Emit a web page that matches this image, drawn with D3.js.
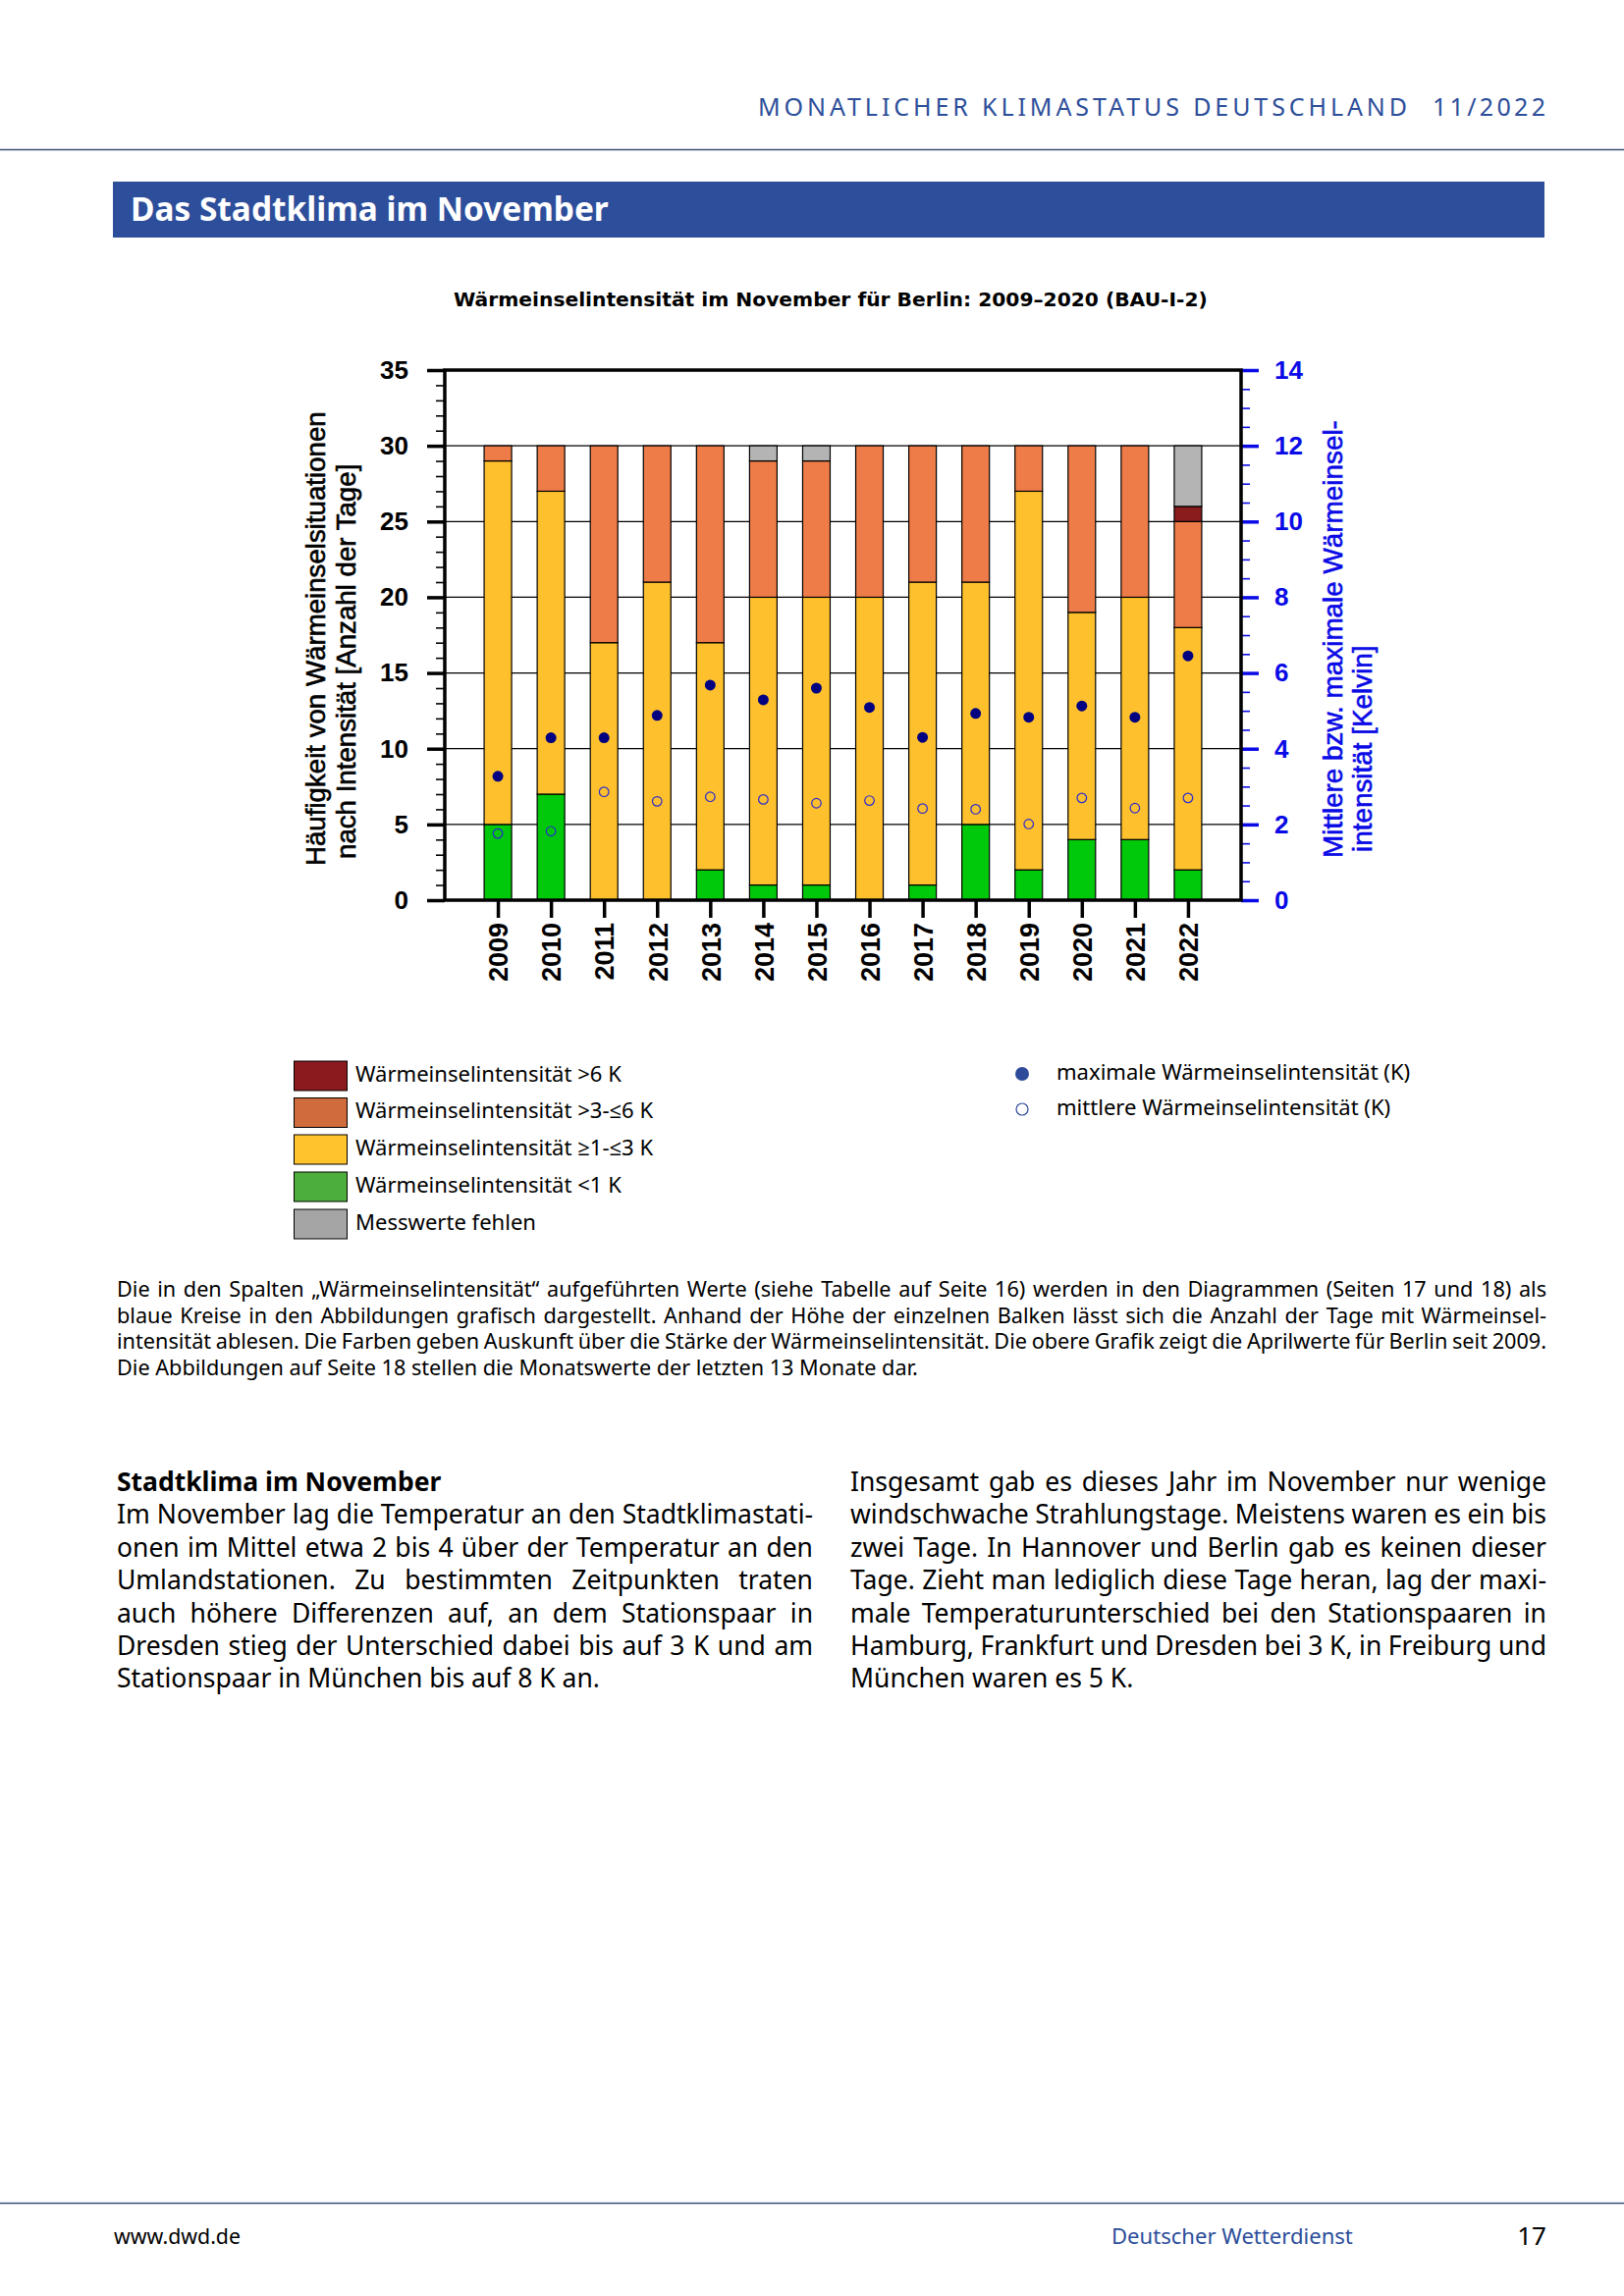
<!DOCTYPE html>
<html><head><meta charset="utf-8">
<script src="https://cdn.jsdelivr.net/npm/d3@7"></script>
<style>
html,body{margin:0;padding:0;background:#fff;}
svg{display:block;}
</style>
</head><body>
<svg id="page" width="1654" height="2339"></svg>
<script>
// ---------- DATA ----------
const years = [2009,2010,2011,2012,2013,2014,2015,2016,2017,2018,2019,2020,2021,2022];
const daysLt1   = [5,7,0,0,2,1,1,0,1,5,2,4,4,2];
const days1to3  = [24,20,17,21,15,19,19,20,20,16,25,15,16,16];
const days3to6  = [1,3,13,9,13,9,9,10,9,9,3,11,10,7];
const daysGt6   = [0,0,0,0,0,0,0,0,0,0,0,0,0,1];
const daysMissing = [0,0,0,0,0,1,1,0,0,0,0,0,0,4];
const maxK  = [3.27,4.29,4.29,4.88,5.68,5.29,5.60,5.09,4.30,4.93,4.83,5.13,4.83,6.45];
const meanK = [1.76,1.82,2.86,2.61,2.73,2.66,2.56,2.63,2.42,2.40,2.01,2.70,2.43,2.70];
const daysTicks = [0,5,10,15,20,25,30,35];
const kelvinTicks = [0,2,4,6,8,10,12,14];
const seriesKeys = ["lt1","b1to3","b3to6","gt6","missing"];
const legendLabels = ["Wärmeinselintensität >6 K","Wärmeinselintensität >3-≤6 K","Wärmeinselintensität ≥1-≤3 K","Wärmeinselintensität <1 K","Messwerte fehlen"];
const legendDotLabels = ["maximale Wärmeinselintensität (K)","mittlere Wärmeinselintensität (K)"];
const chartTitle = "Wärmeinselintensität im November für Berlin: 2009–2020 (BAU-I-2)";
const leftTitle = ["Häufigkeit von Wärmeinselsituationen","nach Intensität [Anzahl der Tage]"];
const rightTitle = ["Mittlere bzw. maximale Wärmeinsel-","intensität [Kelvin]"];
const captionLines = [
 "Die in den Spalten „Wärmeinselintensität“ aufgeführten Werte (siehe Tabelle auf Seite 16) werden in den Diagrammen (Seiten 17 und 18) als",
 "blaue Kreise in den Abbildungen grafisch dargestellt. Anhand der Höhe der einzelnen Balken lässt sich die Anzahl der Tage mit Wärmeinsel-",
 "intensität ablesen. Die Farben geben Auskunft über die Stärke der Wärmeinselintensität. Die obere Grafik zeigt die Aprilwerte für Berlin seit 2009.",
 "Die Abbildungen auf Seite 18 stellen die Monatswerte der letzten 13 Monate dar."];
const leftColLines = [
 "Im November lag die Temperatur an den Stadtklimastati-",
 "onen im Mittel etwa 2 bis 4 über der Temperatur an den",
 "Umlandstationen. Zu bestimmten Zeitpunkten traten",
 "auch höhere Differenzen auf, an dem Stationspaar in",
 "Dresden stieg der Unterschied dabei bis auf 3 K und am",
 "Stationspaar in München bis auf 8 K an."];
const rightColLines = [
 "Insgesamt gab es dieses Jahr im November nur wenige",
 "windschwache Strahlungstage. Meistens waren es ein bis",
 "zwei Tage. In Hannover und Berlin gab es keinen dieser",
 "Tage. Zieht man lediglich diese Tage heran, lag der maxi-",
 "male Temperaturunterschied bei den Stationspaaren in",
 "Hamburg, Frankfurt und Dresden bei 3 K, in Freiburg und",
 "München waren es 5 K."];

// ---------- STYLE ----------
const barColors = {lt1:"#00c80a", b1to3:"#fec02d", b3to6:"#ee7c48", gt6:"#8b1c1e", missing:"#b4b4b4"};
const legendColors = ["#8b1a1e","#cf6b3c","#ffc42c","#4daf3b","#a5a5a5"];
const BLUE = "#0a0ae6";
const NAVY = "#000080";
const PAGEBLUE = "#2d4e9a";
const bodyFont = "'Noto Sans', 'Open Sans', sans-serif";
const chartFont = "'Liberation Sans', Arial, sans-serif";

const svg = d3.select("#page");

function fitWidth(sel, w){
  const n = sel.node(); const fs = parseFloat(sel.attr("font-size"));
  const len = n.getComputedTextLength();
  sel.attr("font-size", (fs*w/len).toFixed(2));
}
function justify(sel, w){
  const n = sel.node(); const len = n.getComputedTextLength();
  const spaces = (sel.text().match(/ /g)||[]).length;
  if(spaces>0) sel.style("word-spacing", ((w-len)/spaces).toFixed(3)+"px");
}

// ---------- PAGE HEADER ----------
svg.append("text").attr("x",772).attr("y",118).attr("font-family",bodyFont)
  .attr("font-size",25).attr("fill",PAGEBLUE).text("MONATLICHER KLIMASTATUS DEUTSCHLAND")
  .attr("textLength",661).attr("lengthAdjust","spacing");
svg.append("text").attr("x",1459).attr("y",118).attr("font-family",bodyFont)
  .attr("font-size",25).attr("fill",PAGEBLUE).text("11/2022")
  .attr("textLength",115).attr("lengthAdjust","spacing");
svg.append("line").attr("x1",0).attr("x2",1654).attr("y1",152.5).attr("y2",152.5)
  .attr("stroke","#3a5078").attr("stroke-width",1.5);
svg.append("rect").attr("x",115).attr("y",185).attr("width",1458).attr("height",57).attr("fill",PAGEBLUE);
const bt = svg.append("text").attr("x",133).attr("y",225).attr("font-family",bodyFont).attr("font-weight","bold")
  .attr("font-size",32).attr("fill","#fff").text("Das Stadtklima im November");
fitWidth(bt,487);

// ---------- CHART ----------
const ct = svg.append("text").attr("x",462).attr("y",312).attr("font-family","'DejaVu Sans', sans-serif")
  .attr("font-weight","bold").attr("font-size",18).attr("fill","#000").text(chartTitle);
fitWidth(ct,768);

const X0=453, X1=1264, Y0=917, Y1=377;
const x = d3.scaleLinear().domain([2008,2023]).range([X0,X1]);
const yD = d3.scaleLinear().domain([0,35]).range([Y0,Y1]);
const yK = d3.scaleLinear().domain([0,14]).range([Y0,Y1]);
const barW = 28;

const table = years.map((yr,i)=>({year:yr, lt1:daysLt1[i], b1to3:days1to3[i], b3to6:days3to6[i], gt6:daysGt6[i], missing:daysMissing[i]}));
const stacked = d3.stack().keys(seriesKeys)(table);

const chart = svg.append("g");
// gridlines
chart.append("g").selectAll("line").data(daysTicks.filter(d=>d>0&&d<35)).join("line")
  .attr("x1",X0).attr("x2",X1).attr("y1",d=>yD(d)).attr("y2",d=>yD(d))
  .attr("stroke","#000").attr("stroke-width",1.2);
// bars
chart.append("g").selectAll("g").data(stacked).join("g").attr("fill",d=>barColors[d.key])
  .selectAll("rect").data(d=>d.filter(s=>s[1]-s[0]>0)).join("rect")
  .attr("x",d=>x(d.data.year)-barW/2).attr("width",barW)
  .attr("y",d=>yD(d[1])).attr("height",d=>yD(d[0])-yD(d[1]))
  .attr("stroke","#000").attr("stroke-width",1.2);
// points
chart.append("g").selectAll("circle").data(years).join("circle")
  .attr("cx",d=>x(d)).attr("cy",(d,i)=>yK(maxK[i])).attr("r",5.5).attr("fill",NAVY);
chart.append("g").selectAll("circle").data(years).join("circle")
  .attr("cx",d=>x(d)).attr("cy",(d,i)=>yK(meanK[i])).attr("r",4.8).attr("fill","none")
  .attr("stroke","#2a2ad0").attr("stroke-width",1.2);

// axes
const axL = chart.append("g").attr("transform",`translate(${X0},0)`);
axL.append("g").call(d3.axisLeft(yD).tickValues(d3.range(0,36,1)).tickSize(9).tickFormat(""))
  .call(g=>{g.select(".domain").remove(); g.selectAll("line").attr("stroke-width",1.6);});
axL.append("g").call(d3.axisLeft(yD).tickValues(daysTicks).tickSize(18).tickPadding(19))
  .call(g=>{g.select(".domain").remove(); g.selectAll("line").attr("stroke-width",3.5);
    g.selectAll("text").attr("font-family",chartFont).attr("font-weight","bold").attr("font-size",26).attr("fill","#000");});

const axR = chart.append("g").attr("transform",`translate(${X1},0)`);
axR.append("g").call(d3.axisRight(yK).tickValues(d3.range(0,14.01,0.5)).tickSize(9).tickFormat(""))
  .call(g=>{g.select(".domain").remove(); g.selectAll("line").attr("stroke",BLUE).attr("stroke-width",1.6);});
axR.append("g").call(d3.axisRight(yK).tickValues(kelvinTicks).tickSize(18).tickPadding(16))
  .call(g=>{g.select(".domain").remove(); g.selectAll("line").attr("stroke",BLUE).attr("stroke-width",3.5);
    g.selectAll("text").attr("font-family",chartFont).attr("font-weight","bold").attr("font-size",26).attr("fill",BLUE);});

const axB = chart.append("g").attr("transform",`translate(0,${Y0})`);
axB.call(d3.axisBottom(x).tickValues(years).tickSize(18).tickFormat(d3.format("d")))
  .call(g=>{g.select(".domain").remove(); g.selectAll("line").attr("stroke-width",3.5);
    g.selectAll("text").attr("font-family",chartFont).attr("font-weight","bold").attr("font-size",27).attr("fill","#000")
     .attr("transform","rotate(-90)").attr("x",-23).attr("y",0).attr("dy","0.36em").attr("text-anchor","end");});

// frame
chart.append("rect").attr("x",X0).attr("y",Y1).attr("width",X1-X0).attr("height",Y0-Y1)
  .attr("fill","none").attr("stroke","#000").attr("stroke-width",3.5);

// axis titles
const lt1 = chart.append("text").attr("transform","translate(331,882) rotate(-90)").attr("font-family",chartFont)
  .attr("font-size",27).attr("fill","#000").attr("stroke","#000").attr("stroke-width",0.6).text(leftTitle[0]);
fitWidth(lt1,463);
chart.append("text").attr("transform","translate(362,875) rotate(-90)").attr("font-family",chartFont)
  .attr("font-size",lt1.attr("font-size")).attr("fill","#000").attr("stroke","#000").attr("stroke-width",0.6).text(leftTitle[1]);
const rt1 = chart.append("text").attr("transform","translate(1367,874) rotate(-90)").attr("font-family",chartFont)
  .attr("font-size",27).attr("fill",BLUE).attr("stroke",BLUE).attr("stroke-width",0.6).text(rightTitle[0]);
fitWidth(rt1,446);
chart.append("text").attr("transform","translate(1397,868) rotate(-90)").attr("font-family",chartFont)
  .attr("font-size",rt1.attr("font-size")).attr("fill",BLUE).attr("stroke",BLUE).attr("stroke-width",0.6).text(rightTitle[1]);

// legend
const lg = svg.append("g");
const boxY = [1081,1118.5,1156,1194,1232];
legendLabels.forEach((lab,i)=>{
  lg.append("rect").attr("x",299.5).attr("y",boxY[i]).attr("width",54).attr("height",30)
    .attr("fill",legendColors[i]).attr("stroke","#000").attr("stroke-width",1);
  const t = lg.append("text").attr("x",362).attr("y",boxY[i]+13).attr("dy","0.35em")
    .attr("font-family",bodyFont).attr("font-size",20).attr("fill","#000").text(lab);
  if(i===0) fitWidth(t,271);
});
const lfs = lg.select("text").attr("font-size");
lg.selectAll("text").attr("font-size",lfs);
lg.append("circle").attr("cx",1041).attr("cy",1094).attr("r",7).attr("fill","#2e4b9b");
lg.append("circle").attr("cx",1041).attr("cy",1130).attr("r",6).attr("fill","none").attr("stroke","#2e4b9b").attr("stroke-width",1.2);
legendDotLabels.forEach((lab,i)=>{
  lg.append("text").attr("x",1076).attr("y",[1092,1128][i]).attr("dy","0.35em")
    .attr("font-family",bodyFont).attr("font-size",lfs).attr("fill","#000").text(lab);
});

// ---------- CAPTION ----------
const cap = svg.append("g").attr("font-family",bodyFont).attr("fill","#000");
const capY = [1321,1347.5,1374,1400.5];
const capLast = cap.append("text").attr("x",119).attr("y",capY[3]).attr("font-size",19).text(captionLines[3]);
fitWidth(capLast,816);
const capFs = capLast.attr("font-size");
captionLines.slice(0,3).forEach((l,i)=>{
  const t = cap.append("text").attr("x",119).attr("y",capY[i]).attr("font-size",capFs).text(l);
  justify(t,1456);
});

// ---------- BODY COLUMNS ----------
const body = svg.append("g").attr("font-family",bodyFont).attr("fill","#000");
const lineY = d3.range(7).map(i=>1519+i*33.4);
const lastL = body.append("text").attr("x",119).attr("y",lineY[6]).attr("font-size",23).text(leftColLines[5]);
fitWidth(lastL,492);
const bfs = lastL.attr("font-size");
body.append("text").attr("x",119).attr("y",lineY[0]).attr("font-size",bfs).attr("font-weight","bold").text("Stadtklima im November");
leftColLines.slice(0,5).forEach((l,i)=>{
  const t = body.append("text").attr("x",119).attr("y",lineY[i+1]).attr("font-size",bfs).text(l);
  justify(t,709);
});
rightColLines.forEach((l,i)=>{
  const t = body.append("text").attr("x",866).attr("y",lineY[i]).attr("font-size",bfs).text(l);
  if(i<6) justify(t,709);
});

// ---------- FOOTER ----------
svg.append("line").attr("x1",0).attr("x2",1654).attr("y1",2244.5).attr("y2",2244.5)
  .attr("stroke","#3a5078").attr("stroke-width",1.5);
const f1 = svg.append("text").attr("x",116).attr("y",2286).attr("font-family",bodyFont).attr("font-size",20).attr("fill","#000").text("www.dwd.de");
fitWidth(f1,129);
const f2 = svg.append("text").attr("x",1132).attr("y",2286).attr("font-family",bodyFont).attr("font-size",20).attr("fill",PAGEBLUE).text("Deutscher Wetterdienst");
fitWidth(f2,246);
svg.append("text").attr("x",1575).attr("y",2287).attr("text-anchor","end").attr("font-family",bodyFont).attr("font-size",26).attr("fill","#000").text("17");
</script>
</body></html>
